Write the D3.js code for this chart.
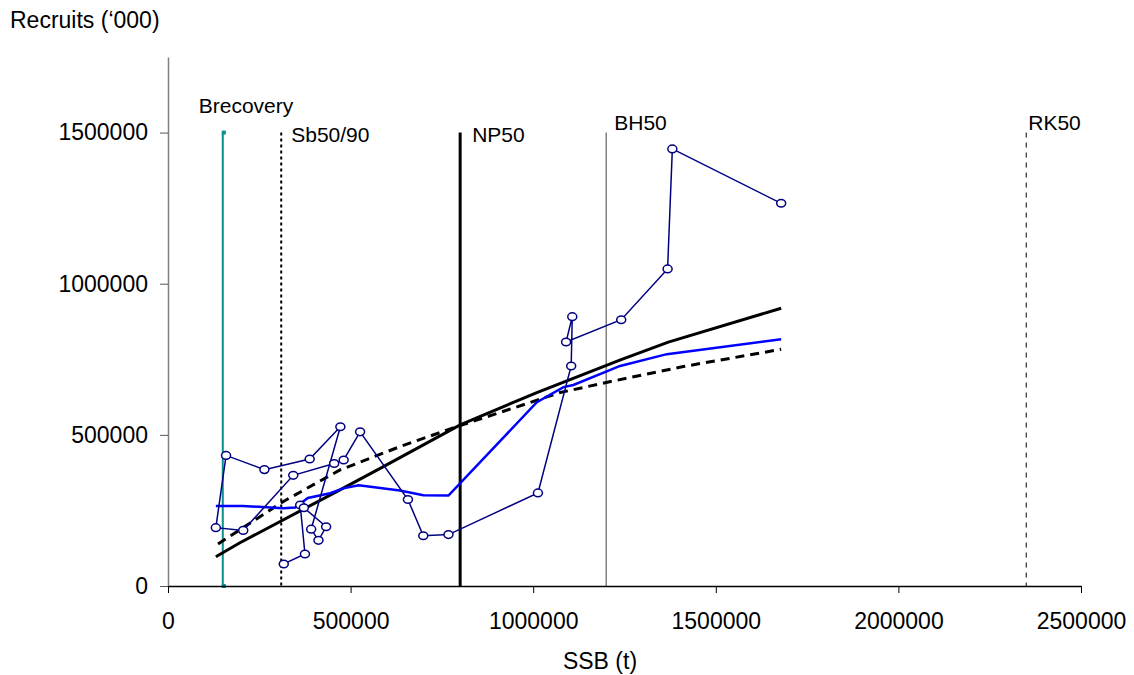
<!DOCTYPE html>
<html>
<head>
<meta charset="utf-8">
<script src="https://cdn.jsdelivr.net/npm/d3@7"></script>
<style>
    body { margin: 0; background: #fff; }
    svg { display: block; font-family: "Liberation Sans", Arial, sans-serif; }
</style>
</head>
<body>
<div id="chart"></div>
<script>
// Observed stock-recruit pairs (in time order)
var ssb = [317000, 375000, 362000, 372000, 433000, 412000, 392000, 472000, 388000, 264000,
    159000, 131000, 206000, 343000, 455000, 481000, 526000, 657000, 699000, 768000,
    1013000, 1104000, 1107000, 1090000, 1241000, 1368000, 1381000, 1679000];
var recruits = [73000, 106000, 268000, 259000, 196000, 151000, 188000, 527000, 420000, 385000,
    432000, 193000, 184000, 366000, 405000, 417000, 510000, 286000, 166000, 170000,
    308000, 728000, 891000, 807000, 881000, 1049000, 1446000, 1266000];

// Fitted curves
var solidSsb = [131000, 197000, 471000, 581000, 800000, 1010000, 1239000, 1370000, 1679000];
var solidRec = [97000, 143000, 318000, 389000, 533000, 640000, 748000, 807000, 919000];

var dashSsb = [137000, 315000, 471000, 635000, 781000, 1074000, 1191000, 1411000, 1679000];
var dashRec = [139000, 279000, 384000, 461000, 523000, 640000, 671000, 726000, 783000];

var blueSsb = [131000, 205000, 315000, 348000, 383000, 444000, 480000, 522000, 635000, 699000,
    768000, 1010000, 1083000, 1110000, 1238000, 1366000, 1679000];
var blueRec = [265000, 265000, 257000, 260000, 291000, 307000, 323000, 333000, 316000, 300000,
    299000, 608000, 658000, 665000, 728000, 767000, 816000];

// Reference points
var refNames = ["Brecovery", "Sb50/90", "NP50", "BH50", "RK50"];
var refSsb = [150000, 310000, 800000, 1200000, 2350000];
var refTop = 1500000;

var xTicks = [0, 500000, 1000000, 1500000, 2000000, 2500000];
var yTicks = [0, 500000, 1000000, 1500000];

var w = 1134, h = 675;

var x = d3.scaleLinear().domain([0, 2500000]).range([168, 1081]);
var y = d3.scaleLinear().domain([0, 1750000]).range([586, 57]);

var svg = d3.select("#chart").append("svg")
    .attr("width", w)
    .attr("height", h);

// reference line styles and label offsets (dx from line, baseline y)
var refStyle = [
    { color: "#0a8f8c", width: 2, dash: null, dx: -24, ty: 113 },
    { color: "#000", width: 2, dash: "3,3", dx: 10, ty: 142 },
    { color: "#000", width: 3, dash: null, dx: 12, ty: 142 },
    { color: "#808080", width: 1.5, dash: null, dx: 8, ty: 130 },
    { color: "#000", width: 1, dash: "5,5", dx: 2, ty: 130 }
];

refNames.forEach(function (name, i) {
    var s = refStyle[i];
    svg.append("line")
        .attr("x1", x(refSsb[i])).attr("x2", x(refSsb[i]))
        .attr("y1", y(refTop)).attr("y2", y(0))
        .attr("stroke", s.color)
        .attr("stroke-width", s.width)
        .attr("stroke-dasharray", s.dash);
    svg.append("text")
        .attr("x", x(refSsb[i]) + s.dx)
        .attr("y", s.ty)
        .attr("font-size", "21px")
        .attr("fill", "#000")
        .text(name);
});

// small end caps on Brecovery
[refTop, 0].forEach(function (v) {
    svg.append("rect")
        .attr("x", x(refSsb[0]) - 1)
        .attr("y", y(v) - 2)
        .attr("width", 4).attr("height", 4)
        .attr("fill", refStyle[0].color);
});

// axes
var yAxis = svg.append("g")
    .attr("transform", "translate(168,0)")
    .call(d3.axisLeft(y).tickValues(yTicks).tickSize(8).tickSizeOuter(0)
        .tickPadding(12).tickFormat(d3.format("d")));
yAxis.select(".domain").attr("stroke", "#808080").attr("stroke-width", 1.5);
yAxis.selectAll(".tick line").attr("stroke", "#555");
yAxis.selectAll("text").attr("font-size", "23px").attr("font-family", "Liberation Sans, Arial, sans-serif").attr("fill", "#000");

var xAxis = svg.append("g")
    .attr("transform", "translate(0,586)")
    .call(d3.axisBottom(x).tickValues(xTicks).tickSize(7).tickSizeOuter(0)
        .tickPadding(20).tickFormat(d3.format("d")));
xAxis.select(".domain").attr("stroke", "#000").attr("stroke-width", 1.5);
xAxis.selectAll(".tick line").attr("stroke", "#000");
xAxis.selectAll("text").attr("font-size", "23px").attr("font-family", "Liberation Sans, Arial, sans-serif").attr("fill", "#000");

// axis titles
svg.append("text")
    .attr("x", 10).attr("y", 28)
    .attr("font-size", "23px")
    .text("Recruits (\u2018000)");

svg.append("text")
    .attr("x", 600).attr("y", 669)
    .attr("text-anchor", "middle")
    .attr("font-size", "23px")
    .text("SSB (t)");

// fitted curves
var line = d3.line()
    .x(function (d) { return x(d[0]); })
    .y(function (d) { return y(d[1]); });

function pairs(a, b) {
    return a.map(function (v, i) { return [v, b[i]]; });
}

svg.append("path")
    .datum(pairs(solidSsb, solidRec))
    .attr("d", line)
    .attr("fill", "none")
    .attr("stroke", "#000")
    .attr("stroke-width", 3);

svg.append("path")
    .datum(pairs(dashSsb, dashRec))
    .attr("d", line)
    .attr("fill", "none")
    .attr("stroke", "#000")
    .attr("stroke-width", 3)
    .attr("stroke-dasharray", "9,6");

svg.append("path")
    .datum(pairs(blueSsb, blueRec))
    .attr("d", line)
    .attr("fill", "none")
    .attr("stroke", "#0000ff")
    .attr("stroke-width", 2.5);

// observations
var obs = pairs(ssb, recruits);

svg.append("path")
    .datum(obs)
    .attr("d", line)
    .attr("fill", "none")
    .attr("stroke", "#000080")
    .attr("stroke-width", 1.5);

svg.selectAll("ellipse.obs")
    .data(obs)
    .enter()
    .append("ellipse")
    .attr("class", "obs")
    .attr("cx", function (d) { return x(d[0]); })
    .attr("cy", function (d) { return y(d[1]); })
    .attr("rx", 4.5)
    .attr("ry", 3.8)
    .attr("fill", "#fff")
    .attr("stroke", "#000080")
    .attr("stroke-width", 1.5);
</script>
</body>
</html>
